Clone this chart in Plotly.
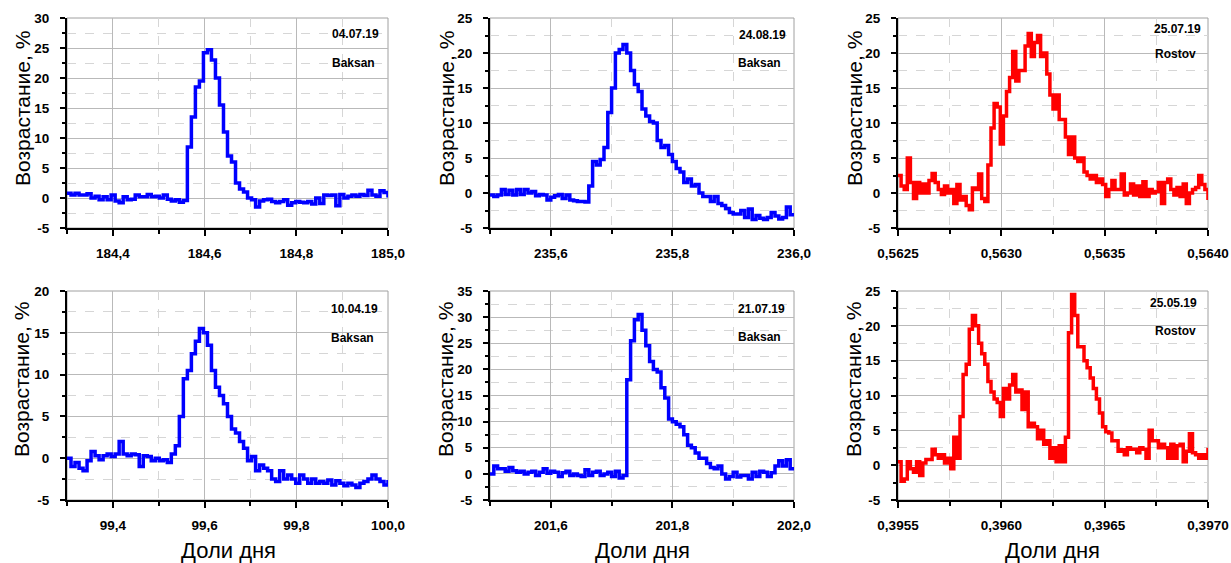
import plotly.graph_objects as go

# ---------------- data ----------------
# Uniformly sampled time series: x = start + i*step ; y = increase, %
p1_start, p1_step = 184.3, 0.00875
p1_vals = [0.8, 0.5, 0.8, 0.5, 0.5, 0.7, 0.0, 0.3, -0.3, 0.2,
           -0.3, 0.5, -0.5, -0.8, 0.2, -0.3, -0.2, 0.5, 0.2, 0.2,
           0.6, 0.2, 0.3, 0.0, 0.5, -0.2, -0.5, -0.3, -0.7, -0.4,
           8.5, 13.5, 18.5, 19.5, 24.2, 24.7, 23.0, 20.0, 15.5, 11.0,
           7.0, 6.0, 2.5, 1.5, 1.0, 0.0, -0.3, -1.5, -0.5, -0.3,
           -0.2, -0.6, -0.8, -0.6, -0.3, -1.2, -0.8, -0.6, -0.7, -0.8,
           -0.6, -1.0, 0.0, -0.9, 0.5, 0.4, 0.5, -1.3, 0.6, 0.0,
           0.3, 0.5, 0.3, 0.6, 0.4, 1.3, 0.5, 0.3, 1.2, 0.9, 0.1]

p2_start, p2_step = 235.5, 0.00625
p2_vals = [-0.3, -0.5, -0.3, 0.5, -0.2, 0.4, -0.3, 0.5, -0.2, 0.5,
           0.0, 0.2, -0.4, -0.2, -0.3, -1.0, -0.6, -0.4, -0.2, -0.8,
           -0.3, -1.0, -1.1, -1.2, -1.2, -1.3, 1.0, 4.5, 4.0, 4.8,
           6.5, 11.5, 15.0, 20.0, 20.5, 21.2, 20.0, 17.5, 15.5, 14.5,
           12.0, 11.0, 10.2, 10.0, 7.5, 6.5, 6.8, 5.5, 4.5, 3.5,
           3.0, 1.5, 2.0, 1.0, 1.2, 0.0, -0.5, -0.5, -1.2, -0.5,
           -1.5, -1.8, -2.2, -2.8, -3.0, -3.0, -2.5, -3.5, -2.3, -3.8,
           -3.2, -3.6, -3.8, -3.5, -2.8, -3.3, -3.7, -3.5, -2.0, -3.1, -3.2]

p3_start, p3_step = 0.5625, 0.000015
p3_vals = [2.5, 1.0, 0.5, 5.0, 1.5, -0.8, 1.5, 0.0, 1.3, 0.0,
           1.8, 2.8, 1.5, 0.5, -0.2, 1.0, 0.0, 0.5, -1.5, 1.2,
           -1.0, -0.5, -1.8, -2.4, 0.7, 0.5, 2.7, -0.8, -1.2, 4.0,
           9.3, 12.8, 12.3, 7.0, 11.0, 14.5, 16.5, 20.2, 16.0, 17.5,
           17.5, 21.0, 22.8, 19.5, 21.5, 22.5, 19.5, 20.0, 17.0, 14.0,
           12.0, 14.0, 10.5, 10.5, 8.0, 5.5, 8.0, 5.0, 4.5, 5.0,
           3.0, 2.5, 2.0, 2.5, 1.5, 2.0, 1.2, -0.5, 0.5, 1.8,
           0.5, 0.5, 2.7, -0.3, 0.0, 1.3, -0.3, 1.0, -0.5, 1.6,
           -0.5, 0.5, 0.0, 0.2, 1.5, -1.5, 1.5, 2.0, 0.5, -0.3,
           0.8, -0.5, 1.3, -1.5, 0.0, 0.5, 0.8, 2.5, 1.2, 0.5, -1.0]

p4_start, p4_step = 99.3, 0.00875
p4_vals = [0.0, -1.0, -0.5, -1.2, -1.5, -0.3, 0.8, 0.3, -0.2, 0.3,
           0.5, 0.2, 0.5, 2.0, 0.5, 0.3, 0.5, 0.4, -1.0, 0.3,
           0.2, -0.3, 0.0, -0.3, -0.2, -0.5, 0.5, 1.5, 5.0, 9.5,
           10.5, 12.5, 14.0, 15.5, 15.0, 13.5, 10.5, 8.5, 7.5, 6.5,
           5.0, 3.5, 3.0, 2.0, 1.2, -0.3, 0.2, -1.5, -0.8, -1.2,
           -1.5, -2.5, -2.8, -1.5, -2.5, -2.0, -2.5, -3.0, -2.0, -2.5,
           -3.0, -2.5, -3.0, -2.8, -3.0, -2.6, -3.2, -2.7, -3.0, -3.3,
           -3.0, -3.2, -3.5, -3.0, -2.8, -2.5, -2.0, -2.5, -2.8, -3.2, -2.6]

p5_start, p5_step = 201.5, 0.00625
p5_vals = [0.0, 1.5, 1.0, 1.0, 0.5, 1.2, 0.6, 0.3, 0.5, 0.0,
           0.3, 0.5, -0.3, 0.3, 1.0, 0.1, 0.5, 0.3, -0.5, 0.2,
           0.5, -0.3, 0.0, -0.3, -0.5, 0.8, -0.3, 0.3, 0.5, -0.3,
           0.0, 0.3, -0.5, 0.5, -0.8, -0.3, 18.0, 25.5, 29.5, 30.5,
           27.5, 24.5, 21.5, 20.0, 19.5, 16.5, 14.5, 10.5, 10.0, 9.5,
           9.0, 7.5, 5.5, 5.0, 4.0, 3.0, 3.0, 2.0, 1.2, 1.0,
           1.5, 0.0, -1.0, -0.5, 0.3, -0.6, -0.3, -0.3, -1.0, 0.3,
           -0.5, 0.5, 0.3, -0.5, 0.2, 1.5, 2.5, 1.5, 2.7, 1.0, 0.8]

p6_start, p6_step = 0.3955, 0.000015
p6_vals = [0.5, -2.3, -2.0, 0.5, -0.5, -1.0, 0.5, -1.5, 0.3, 0.8,
           0.8, 2.3, 1.5, 1.0, 1.5, 0.3, 1.0, -0.5, 4.0, 1.0,
           7.0, 13.0, 14.5, 19.5, 21.5, 20.0, 17.5, 16.0, 14.5, 12.0,
           10.5, 9.5, 9.0, 7.0, 11.0, 9.5, 11.5, 13.0, 10.5, 10.8,
           8.0, 10.5, 5.5, 6.0, 5.5, 3.8, 5.0, 3.0, 3.5, 1.0,
           2.5, 0.5, 2.8, 0.5, 4.0, 19.0, 24.5, 21.5, 17.0, 17.0,
           15.0, 14.0, 12.5, 11.0, 9.5, 7.5, 5.5, 4.8, 4.6, 3.5,
           3.5, 2.0, 2.2, 1.5, 2.5, 2.3, 2.3, 1.8, 2.5, 2.3,
           1.0, 5.0, 3.5, 3.5, 2.5, 3.0, 2.5, 1.0, 3.0, 1.0,
           2.8, 3.0, 0.5, 2.0, 4.5, 1.8, 1.5, 1.0, 1.5, 1.0, 2.5]

dates = ["04.07.19", "24.08.19", "25.07.19", "10.04.19", "21.07.19", "25.05.19"]
stations = ["Baksan", "Baksan", "Rostov", "Baksan", "Baksan", "Rostov"]
x_ranges = [[184.3, 185.0], [235.5, 236.0], [0.5625, 0.5640],
            [99.3, 100.0], [201.5, 202.0], [0.3955, 0.3970]]
x_tick0 = [184.4, 235.6, 0.5625, 99.4, 201.6, 0.3955]
x_dtick = [0.2, 0.2, 0.0005, 0.2, 0.2, 0.0005]
x_fmt = [".1f", ".1f", ".4f", ".1f", ".1f", ".4f"]
y_ranges = [[-5, 30], [-5, 25], [-5, 25], [-5, 20], [-5, 35], [-5, 25]]

series = [(p1_start, p1_step, p1_vals), (p2_start, p2_step, p2_vals),
          (p3_start, p3_step, p3_vals), (p4_start, p4_step, p4_vals),
          (p5_start, p5_step, p5_vals), (p6_start, p6_step, p6_vals)]
colors = ["#0000ff", "#0000ff", "#ff0000", "#0000ff", "#0000ff", "#ff0000"]

# ---------------- layout geometry (page pixels) ----------------
W, H = 1231, 563
col_px = [(67, 388), (490, 794), (898, 1208)]
row_px = [(18, 228), (291, 500)]
date_pos = [(381, 34), (788, 35), (1203, 29), (380, 309), (787, 309), (1199, 303)]
stat_pos = [(377, 63), (783, 63), (1198, 54), (376, 338), (783, 337), (1198, 331)]
ytitle_pos = [(22, 109), (446, 109), (854, 109), (22, 380), (446, 380), (854, 380)]
xtitle_pos = [(228, 550), (642, 550), (1052, 550)]


def px(xp):
    return xp / W


def py(yp):
    return 1 - yp / H


FONT = "Arial, Liberation Sans, sans-serif"
GRID = "#b9b9b9"
MINOR_GRID = "#d6d6d6"
TICK_SIZE = 13.5

fig = go.Figure()
annotations = []
shapes = []
layout = dict(
    width=W, height=H, autosize=False, margin=dict(l=0, r=0, t=0, b=0, pad=0),
    paper_bgcolor="white", plot_bgcolor="white",
    separators=", ", showlegend=False,
    font=dict(family=FONT, color="black"),
)

for k in range(6):
    r, c = divmod(k, 3)
    n = k + 1
    xs = "" if n == 1 else str(n)
    start, step, vals = series[k]
    xv = [start + i * step for i in range(len(vals))]
    fig.add_trace(go.Scatter(
        x=xv, y=vals, mode="lines", line=dict(color=colors[k], width=3.5, shape="hv"),
        xaxis="x" + xs, yaxis="y" + xs, hoverinfo="skip"))

    x0p, x1p = col_px[c]
    y0p, y1p = row_px[r]
    xdom = [px(x0p), px(x1p)]
    ydom = [py(y1p), py(y0p)]
    ylo, yhi = y_ranges[k]
    yt = list(range(ylo, yhi + 1, 5))

    layout["xaxis" + xs] = dict(
        domain=xdom, anchor="y" + xs, range=x_ranges[k], automargin=False,
        tickmode="linear", tick0=x_tick0[k], dtick=x_dtick[k], tickformat=x_fmt[k],
        ticks="outside", ticklen=6, tickwidth=2, tickcolor="black",
        showline=True, linecolor="black", linewidth=2, mirror=False,
        showgrid=True, gridcolor=GRID, gridwidth=1, zeroline=False,
        tickfont=dict(family=FONT, size=TICK_SIZE, weight="bold", color="black"),
        ticklabelstandoff=6,
        minor=dict(tickmode="linear", tick0=x_tick0[k], dtick=x_dtick[k] / 2,
                   ticks="outside", ticklen=4, tickwidth=1.5, tickcolor="black",
                   showgrid=True, gridcolor=MINOR_GRID, griddash="dash", gridwidth=1),
    )
    layout["yaxis" + xs] = dict(
        domain=ydom, anchor="x" + xs, range=[ylo, yhi], automargin=False,
        tickmode="array", tickvals=yt, ticktext=[str(v) for v in yt],
        ticks="outside", ticklen=5, tickwidth=2, tickcolor="black",
        showline=True, linecolor="black", linewidth=2, mirror=False,
        showgrid=True, gridcolor=GRID, gridwidth=1, zeroline=False,
        tickfont=dict(family=FONT, size=TICK_SIZE, weight="bold", color="black"),
        ticklabelstandoff=8,
        minor=dict(tickmode="linear", tick0=ylo, dtick=2.5,
                   ticks="outside", ticklen=3, tickwidth=1.5, tickcolor="black",
                   showgrid=True, gridcolor=MINOR_GRID, griddash="dash", gridwidth=1),
    )
    # right-hand mirror axis with inward ticks
    layout["yaxis" + str(n + 6)] = dict(
        overlaying="y" + xs, anchor="x" + xs, side="right", range=[ylo, yhi],
        automargin=False,
        tickmode="linear", tick0=ylo, dtick=2.5, ticks="inside", ticklen=4,
        tickwidth=1, tickcolor="#666666", showticklabels=False,
        showgrid=False, zeroline=False, showline=False,
    )
    # grey frame on top/right
    shapes.append(dict(type="rect", xref="x" + xs + " domain", yref="y" + xs + " domain",
                       x0=0, x1=1, y0=0, y1=1, line=dict(color="#a0a0a0", width=1),
                       layer="below"))

    dx, dy = date_pos[k]
    sx, sy = stat_pos[k]
    annotations.append(dict(text=dates[k], xref="paper", yref="paper",
                            x=px(dx), y=py(dy), xanchor="right", yanchor="middle",
                            showarrow=False,
                            font=dict(family=FONT, size=12, weight="bold", color="black")))
    annotations.append(dict(text=stations[k], xref="paper", yref="paper",
                            x=px(sx), y=py(sy), xanchor="right", yanchor="middle",
                            showarrow=False,
                            font=dict(family=FONT, size=12, weight="bold", color="black")))
    tx, ty = ytitle_pos[k]
    annotations.append(dict(text="Возрастание, %", xref="paper", yref="paper",
                            x=px(tx), y=py(ty), xanchor="center", yanchor="middle",
                            textangle=-90, showarrow=False,
                            font=dict(family=FONT, size=21, color="black")))

for (tx, ty) in xtitle_pos:
    annotations.append(dict(text="Доли дня", xref="paper", yref="paper",
                            x=px(tx), y=py(ty), xanchor="center", yanchor="middle",
                            showarrow=False,
                            font=dict(family=FONT, size=22, color="black")))

layout["annotations"] = annotations
layout["shapes"] = shapes
fig.update_layout(**layout)
fig.write_html(
    "out.html",
    config={"displayModeBar": False},
    post_script="document.body.style.margin='0';document.body.style.overflow='hidden';",
)
